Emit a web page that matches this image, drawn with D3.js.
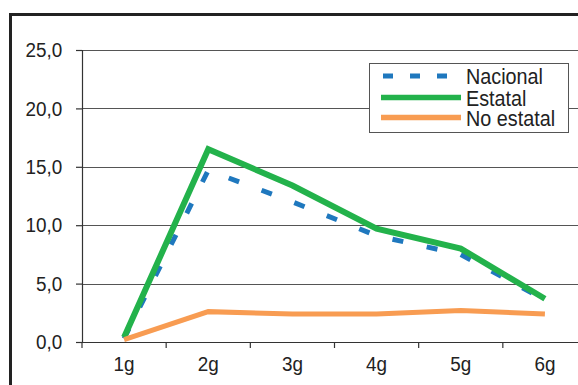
<!DOCTYPE html>
<html>
<head>
<meta charset="utf-8">
<script src="https://cdn.jsdelivr.net/npm/d3@7"></script>
<style>
  html, body { margin: 0; padding: 0; background: #fff; }
  svg { display: block; }
  text { font-family: "Liberation Sans", Arial, sans-serif; fill: #222; }
</style>
</head>
<body>
<svg id="chart" width="578" height="385"></svg>
<script>
// Grades on the x axis and the three series (percent)
const categories = ["1g", "2g", "3g", "4g", "5g", "6g"];
const nacional   = [0.3, 14.7, 12.0, 9.1, 7.5, 3.6];
const estatal    = [0.4, 16.5, 13.4, 9.7, 8.0, 3.7];
const noEstatal  = [0.2, 2.6, 2.4, 2.4, 2.7, 2.4];
const yTicks     = [0, 5, 10, 15, 20, 25];
const seriesNames  = ["Nacional", "Estatal", "No estatal"];
const seriesColors = ["#1f78be", "#23b24b", "#f89c52"];

const svg = d3.select("#chart");
const plot = { left: 82, right: 587, top: 50, bottom: 342 };

const x = d3.scaleBand().domain(categories).range([plot.left, plot.right]).padding(0);
const y = d3.scaleLinear().domain([0, 25]).range([plot.bottom, plot.top]);
const cx = d => x(d) + x.bandwidth() / 2;

// Outer frame
svg.append("rect")
  .attr("x", 10.5).attr("y", 14.5)
  .attr("width", 600).attr("height", 400)
  .attr("fill", "none").attr("stroke", "#222").attr("stroke-width", 3);

// Horizontal gridlines
svg.append("g").selectAll("line")
  .data(yTicks.filter(v => v > 0))
  .join("line")
  .attr("x1", plot.left).attr("x2", plot.right)
  .attr("y1", d => Math.round(y(d)) + 0.5).attr("y2", d => Math.round(y(d)) + 0.5)
  .attr("stroke", "#555").attr("stroke-width", 1);

// Y axis
const textScale = 0.9;
const yAxis = svg.append("g")
  .attr("transform", `translate(${plot.left},0)`)
  .call(d3.axisLeft(y).tickValues(yTicks).tickSize(6).tickPadding(16)
    .tickFormat(d => d3.format(".1f")(d).replace(".", ",")));
yAxis.select(".domain").attr("stroke", "#333").attr("stroke-width", 1.2);
yAxis.selectAll(".tick line").attr("stroke", "#333").attr("stroke-width", 1.2);
yAxis.selectAll("text")
  .attr("font-size", 21).attr("font-family", "Liberation Sans, Arial, sans-serif")
  .attr("fill", "#222").attr("transform", `scale(${textScale},1)`);

// X axis: labels centred in each band, tick marks on band boundaries
const xAxis = svg.append("g")
  .attr("transform", `translate(0,${plot.bottom})`)
  .call(d3.axisBottom(x).tickSize(0).tickPadding(14).tickSizeOuter(0));
xAxis.select(".domain").attr("stroke", "#333").attr("stroke-width", 1.2);
xAxis.selectAll("text")
  .attr("font-size", 21).attr("font-family", "Liberation Sans, Arial, sans-serif")
  .attr("fill", "#222")
  .attr("transform", `scale(${textScale},1)`)
  .attr("x", 0);
xAxis.selectAll(".tick").each(function () {
  const t = d3.select(this);
  const tr = t.attr("transform");
  const m = /translate\(([-\d.]+)/.exec(tr);
  const px = +m[1];
  t.select("text").attr("transform", null)
    .attr("transform", `translate(${px},0) scale(${textScale},1)`);
  t.attr("transform", null);
});
const boundaries = categories.map(c => x(c)).concat([plot.right]);
xAxis.selectAll(".bound").data(boundaries).join("line")
  .attr("class", "bound")
  .attr("x1", d => d).attr("x2", d => d)
  .attr("y1", 0).attr("y2", 6)
  .attr("stroke", "#333").attr("stroke-width", 1.2);

// Series lines
const line = d3.line().x((d, i) => cx(categories[i])).y(d => y(d));
const seriesData = [nacional, estatal, noEstatal];
const dashes = ["11,24", null, null];
const widths = [5, 6, 5];
svg.append("g").selectAll("path")
  .data(seriesData)
  .join("path")
  .attr("d", d => line(d))
  .attr("fill", "none")
  .attr("stroke", (d, i) => seriesColors[i])
  .attr("stroke-width", (d, i) => widths[i])
  .attr("stroke-dasharray", (d, i) => dashes[i])
  .attr("stroke-linejoin", "miter");

// Legend
const legend = svg.append("g");
legend.append("rect")
  .attr("x", 369.5).attr("y", 63.5).attr("width", 199).attr("height", 69)
  .attr("fill", "#fff").attr("stroke", "#555").attr("stroke-width", 1);
const legendDash = ["10,17", null, null];
const rowY = [76, 97.5, 117.5];
seriesNames.forEach((name, i) => {
  legend.append("line")
    .attr("x1", i === 0 ? 383 : 381).attr("x2", 461)
    .attr("y1", rowY[i]).attr("y2", rowY[i])
    .attr("stroke", seriesColors[i])
    .attr("stroke-width", i === 0 ? 5 : 5.5)
    .attr("stroke-dasharray", legendDash[i]);
  legend.append("text")
    .attr("transform", `translate(466,${rowY[i] + 8}) scale(${textScale},1)`)
    .attr("font-size", 22)
    .text(name);
});
</script>
</body>
</html>
